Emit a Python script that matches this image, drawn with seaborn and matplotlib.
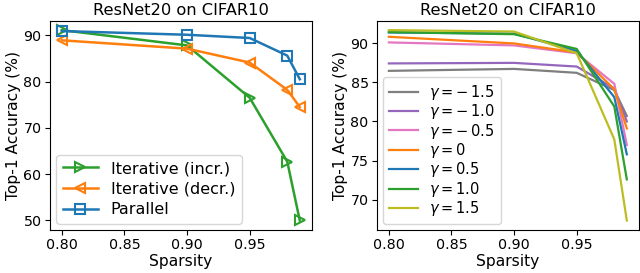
import numpy as np
import pandas as pd
import matplotlib
matplotlib.use('Agg')
import matplotlib.pyplot as plt
import seaborn as sns

# sparsity levels shared by both panels
sparsity = [0.80, 0.90, 0.95, 0.98, 0.99]

# left panel: pruning schedules
iter_incr = [91.1, 87.8, 76.5, 62.7, 50.0]
iter_decr = [88.9, 87.1, 84.1, 78.2, 74.5]
parallel = [90.9, 90.1, 89.4, 85.6, 80.5]

# right panel: gamma sweep
gammas = ['-1.5', '-1.0', '-0.5', '0', '0.5', '1.0', '1.5']
acc_g_m15 = [86.45, 86.7, 86.2, 84.0, 80.7]
acc_g_m10 = [87.4, 87.47, 87.0, 84.2, 80.0]
acc_g_m05 = [90.08, 89.7, 88.7, 84.8, 77.0]
acc_g_0 = [90.8, 89.95, 88.8, 84.1, 79.1]
acc_g_05 = [91.35, 91.2, 89.0, 83.1, 75.8]
acc_g_10 = [91.4, 91.13, 89.25, 81.9, 72.6]
acc_g_15 = [91.65, 91.47, 88.7, 77.7, 67.35]

gamma_acc = [acc_g_m15, acc_g_m10, acc_g_m05, acc_g_0, acc_g_05, acc_g_10, acc_g_15]
gamma_colors = ['tab:gray', 'tab:purple', 'tab:pink', 'tab:orange',
                'tab:blue', 'tab:green', 'tab:olive']

plt.rcParams['font.family'] = ['DejaVu Sans']
plt.rcParams['xtick.labelsize'] = 10.3
plt.rcParams['ytick.labelsize'] = 10.3
plt.rcParams['xtick.major.pad'] = 2.5
plt.rcParams['ytick.major.pad'] = 2.5
plt.rcParams['axes.labelpad'] = 1.5

fig = plt.figure(figsize=(6.4, 2.73), dpi=100)
ax1 = fig.add_axes([0.078, 0.1575, 0.409, 0.767])
ax2 = fig.add_axes([0.589, 0.1575, 0.409, 0.767])

# =============================================================================
# Left panel
# =============================================================================
left_series = [('Iterative (incr.)', iter_incr, 'tab:green', '>'),
               ('Iterative (decr.)', iter_decr, 'tab:orange', '<'),
               ('Parallel', parallel, 'tab:blue', 's')]
for name, vals, col, mk in left_series:
    sns.lineplot(x=sparsity, y=vals, ax=ax1, color=col, label=name,
                 marker=mk, markersize=7, markerfacecolor='none',
                 markeredgecolor=col, markeredgewidth=1.5, linewidth=1.8)

ax1.set_title('ResNet20 on CIFAR10', fontsize=11.7, pad=4)
ax1.set_xlabel('Sparsity', fontsize=11.2)
ax1.set_ylabel('Top-1 Accuracy (%)', fontsize=11.2)
ax1.set_xticks([0.80, 0.85, 0.90, 0.95])
ax1.set_yticks([50, 60, 70, 80, 90])
ax1.legend(loc='lower left', fontsize=11.5, labelspacing=0.35, borderaxespad=0.4,
           handlelength=2.2)

# =============================================================================
# Right panel
# =============================================================================
df = pd.DataFrame({
    'Sparsity': sparsity * len(gammas),
    'Accuracy': np.concatenate(gamma_acc),
    'gamma': [r'$\gamma = %s$' % g.replace('-', r'-\,') for g in gammas for _ in sparsity],
})
hue_order = [r'$\gamma = %s$' % g.replace('-', r'-\,') for g in gammas]
sns.lineplot(data=df, x='Sparsity', y='Accuracy', hue='gamma', hue_order=hue_order,
             palette=gamma_colors, ax=ax2, linewidth=1.6)

ax2.set_title('ResNet20 on CIFAR10', fontsize=11.7, pad=4)
ax2.set_xlabel('Sparsity', fontsize=11.2)
ax2.set_ylabel('Top-1 Accuracy (%)', fontsize=11.2)
ax2.set_xticks([0.80, 0.85, 0.90, 0.95])
ax2.set_yticks([70, 75, 80, 85, 90])
ax2.legend(loc='lower left', fontsize=10.5, labelspacing=0.03, borderaxespad=0.4,
           title=None)

fig.savefig('out.png', dpi=100)
